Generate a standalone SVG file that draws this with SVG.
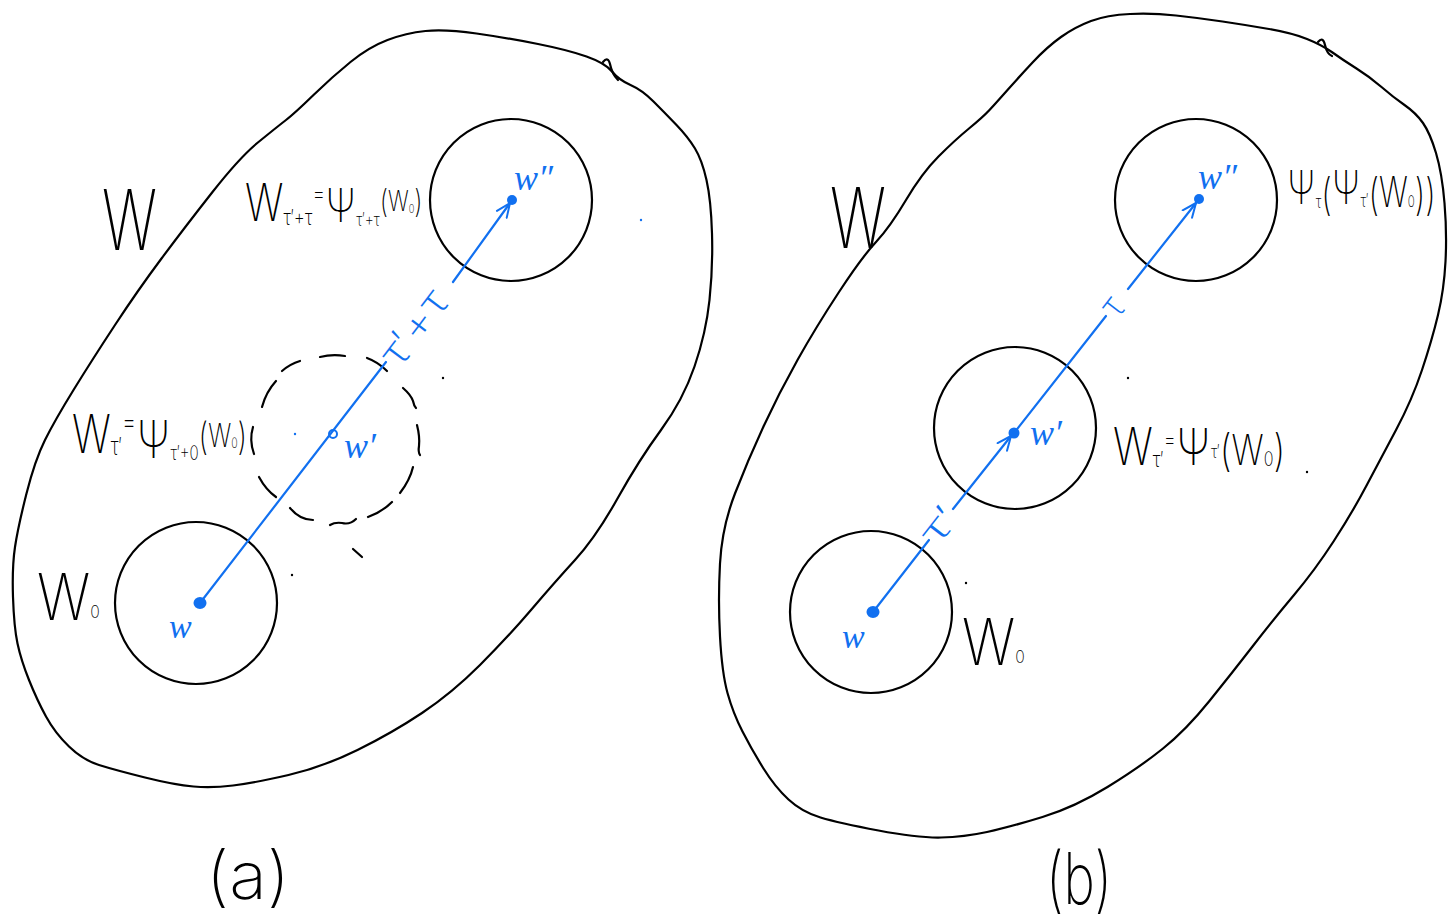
<svg xmlns="http://www.w3.org/2000/svg" width="1448" height="920" viewBox="0 0 1448 920">
<defs>
<style>
.ol{fill:none;stroke:#000;stroke-width:2.2;stroke-linecap:round;stroke-linejoin:round}
.ds{fill:none;stroke:#000;stroke-width:2.2;stroke-linecap:round}
.bl{fill:none;stroke:#1170f0;stroke-width:2.2;stroke-linecap:round}
.hw{font-family:Inter,"Liberation Sans",sans-serif;font-weight:200;fill:#000}
.bt{font-family:Inter,"Liberation Sans",sans-serif;font-weight:200;fill:#1170f0}
.bw{font-family:"Liberation Serif",serif;font-style:italic;fill:#1170f0}
.dot{fill:#000}
.bdot{fill:#1170f0}
</style>
<marker id="arr" viewBox="0 0 16 16" refX="15" refY="8" markerWidth="16" markerHeight="16" orient="auto" markerUnits="userSpaceOnUse">
<path d="M1,2 L15,8 L1,14" fill="none" stroke="#1170f0" stroke-width="2" stroke-linecap="round" stroke-linejoin="round"/>
</marker>
</defs>
<rect width="1448" height="920" fill="#fff"/>

<!-- Panel (a) -->
<g id="blob-a">
<path class="ol" d="M425.5,31 Q445,29 476.5,33.5 Q508,38 538,44 Q568,50 586.5,56.5 Q605,63 612,71.5 Q619,80 630.5,85 Q642,90 653.5,101.5 Q665,113 676.5,125 Q688,137 695,148.5 Q702,160 706.5,180 Q711,200 712,233.5 Q713,267 709.5,300 Q706,333 694.5,366.5 Q683,400 661,430 Q639,460 617.5,498.5 Q596,537 575,560 Q554,583 531,610 Q508,637 480,665 Q452,693 422,713 Q392,733 357.5,750 Q323,767 288.5,775 Q254,783 233,785.5 Q212,788 193.5,786.5 Q175,785 145,777.5 Q115,770 99,765 Q83,760 69,746.5 Q55,733 46,716.5 Q37,700 29,680 Q21,660 17.5,643.5 Q14,627 13,597 Q12,567 15,547 Q18,527 26.5,493.5 Q35,460 45,440 Q55,420 73.5,390 Q92,360 115,325 Q138,290 161.5,258.5 Q185,227 212.5,192 Q240,157 258.5,142 Q277,127 286,120 Q295,113 313.5,95 Q332,77 350.5,62 Q369,47 387.5,40 Q406,33 425.5,31 Z"/>
<path class="ol" d="M603,62 Q608,56 610,64 Q612,74 618,80"/>
</g>
<g id="node-a-W0"><circle class="ol" cx="196" cy="603" r="81"/></g>
<g id="node-a-W1">
<path class="ds" d="M262,407 Q266,392 276,381"/>
<path class="ds" d="M282,371 Q290,364 300,361"/>
<path class="ds" d="M320,357 Q332,354 345,356"/>
<path class="ds" d="M367,358 Q378,362 387,371"/>
<path class="ds" d="M403,388 Q411,395 413,401 Q414,406 416,408"/>
<path class="ds" d="M417,425 Q420,437 419,446 Q418,452 420,455"/>
<path class="ds" d="M413,467 Q410,480 400,493"/>
<path class="ds" d="M392,502 Q382,512 368,517"/>
<path class="ds" d="M356,519 Q350,525 342,523 Q335,522 330,525"/>
<path class="ds" d="M313,520 Q300,520 290,508"/>
<path class="ds" d="M276,497 Q266,490 259,477"/>
<path class="ds" d="M254,454 Q249,440 253,427"/>
<path class="ds" d="M353,549 L362,557"/>
</g>
<g id="node-a-W2"><circle class="ol" cx="511" cy="200" r="81"/></g>

<g id="labels-a">
<text class="hw" x="102" y="250" font-size="84" textLength="55" lengthAdjust="spacingAndGlyphs">W</text>
<text id="label-a-top" class="hw" x="245" y="221" transform="matrix(0.78,0,0,1,53.9,0)"><tspan y="221" font-size="52">W</tspan><tspan y="225" font-size="22">τ′+τ</tspan><tspan y="202" font-size="26">=</tspan><tspan y="222" font-size="46">Ψ</tspan><tspan y="226" font-size="18">τ′+τ</tspan><tspan y="213" font-size="32">(</tspan><tspan y="211" font-size="28">W</tspan><tspan y="213" font-size="12">0</tspan><tspan y="213" font-size="32">)</tspan></text>
<text id="label-a-mid" class="hw" x="72" y="453" transform="matrix(0.758,0,0,1,17.4,0)"><tspan y="453" font-size="54">W</tspan><tspan y="455" font-size="24">τ′</tspan><tspan y="432" font-size="30">=</tspan><tspan y="458" font-size="52">Ψ</tspan><tspan y="460" font-size="20">τ′+0</tspan><tspan y="450" font-size="38">(</tspan><tspan y="447" font-size="32">W</tspan><tspan y="448" font-size="14">0</tspan><tspan y="450" font-size="38">)</tspan></text>
<text id="label-a-W0" class="hw" x="37" y="620" transform="matrix(0.877,0,0,1,4.55,0)"><tspan y="620" font-size="64">W</tspan><tspan y="618" font-size="18">0</tspan></text>
<text class="hw" x="206" y="899" font-size="66" textLength="84" lengthAdjust="spacingAndGlyphs">(a)</text>
</g>

<g id="points-a">
<ellipse class="bdot" cx="200" cy="603" rx="6.5" ry="6"/>
<circle cx="333" cy="434" r="4" fill="none" stroke="#1170f0" stroke-width="2"/>
<circle class="bdot" cx="512" cy="200" r="5"/>
<text class="bw" x="169" y="638" font-size="34">w</text>
<text class="bw" x="344" y="458" font-size="36">w′</text>
<text class="bw" x="514" y="190" font-size="36">w″</text>
<circle class="bdot" cx="295" cy="434" r="1.2"/>
<circle class="bdot" cx="641" cy="220" r="1.2"/>
<circle class="dot" cx="443" cy="378" r="1.2"/>
<circle class="dot" cx="292" cy="575" r="1.2"/>
</g>

<!-- Panel (b) -->
<g id="blob-b">
<path class="ol" d="M1130,14 Q1153,13 1176,15.5 Q1199,18 1222.5,21.5 Q1246,25 1269,29 Q1292,33 1307,39 Q1322,45 1332.5,52.5 Q1343,60 1356.5,68.5 Q1370,77 1381.5,87 Q1393,97 1404.5,105 Q1416,113 1423,123 Q1430,133 1436,153 Q1442,173 1444.5,203 Q1447,233 1445.5,261.5 Q1444,290 1438,315 Q1432,340 1422,370 Q1412,400 1396,430 Q1380,460 1366,486.5 Q1352,513 1333.5,541.5 Q1315,570 1294,595 Q1273,620 1252.5,646.5 Q1232,673 1209,701.5 Q1186,730 1163,748.5 Q1140,767 1107.5,787 Q1075,807 1042.5,817 Q1010,827 987,832 Q964,837 941,837.5 Q918,838 878.5,830.5 Q839,823 820.5,817.5 Q802,812 788.5,799.5 Q775,787 763.5,768.5 Q752,750 742.5,731.5 Q733,713 727.5,693 Q722,673 720,636.5 Q718,600 720,563.5 Q722,527 735,493.5 Q748,460 763.5,426.5 Q779,393 797.5,360 Q816,327 839,292 Q862,257 876,242 Q890,227 906,200 Q922,173 938.5,156.5 Q955,140 969,128.5 Q983,117 989.5,110 Q996,103 1007.5,90 Q1019,77 1033,62 Q1047,47 1061,37 Q1075,27 1091,21 Q1107,15 1130,14 Z"/>
<path class="ol" d="M1318,42 Q1323,36 1325,45 Q1327,54 1332,56"/>
</g>
<g id="node-b-W0"><circle class="ol" cx="871" cy="612" r="81"/></g>
<g id="node-b-W1"><circle class="ol" cx="1015" cy="428" r="81"/></g>
<g id="node-b-W2"><circle class="ol" cx="1196" cy="200" r="81"/></g>

<g id="labels-b">
<text class="hw" x="830" y="248" font-size="84" textLength="56" lengthAdjust="spacingAndGlyphs">W</text>
<text id="label-b-top" class="hw" x="1287" y="204" transform="matrix(0.723,0,0,1,356.5,0)"><tspan y="204" font-size="46">Ψ</tspan><tspan y="208" font-size="18">τ</tspan><tspan y="210" font-size="44">(</tspan><tspan y="204" font-size="46">Ψ</tspan><tspan y="207" font-size="18">τ′</tspan><tspan y="210" font-size="44">(</tspan><tspan y="207" font-size="42">W</tspan><tspan y="207" font-size="16">0</tspan><tspan y="210" font-size="44">))</tspan></text>
<text id="label-b-mid" class="hw" x="1113" y="465" transform="matrix(0.808,0,0,1,213.7,0)"><tspan y="465" font-size="52">W</tspan><tspan y="467" font-size="22">τ′</tspan><tspan y="448" font-size="24">=</tspan><tspan y="465" font-size="50">Ψ</tspan><tspan y="458" font-size="18">τ′</tspan><tspan y="466" font-size="44">(</tspan><tspan y="465" font-size="42">W</tspan><tspan y="466" font-size="20">0</tspan><tspan y="466" font-size="44">)</tspan></text>
<text id="label-b-W0" class="hw" x="962" y="665" transform="matrix(0.877,0,0,1,118.3,0)"><tspan y="665" font-size="64">W</tspan><tspan y="663" font-size="18">0</tspan></text>
<text class="hw" x="1046" y="904" font-size="72" textLength="66" lengthAdjust="spacingAndGlyphs">(b)</text>
</g>

<g id="points-b">
<ellipse class="bdot" cx="873" cy="612" rx="6.5" ry="6"/>
<circle class="bdot" cx="1014" cy="433" r="5.5"/>
<circle class="bdot" cx="1199" cy="199" r="5"/>
<text class="bw" x="842" y="648" font-size="34">w</text>
<text class="bw" x="1030" y="445" font-size="36">w′</text>
<text class="bw" x="1198" y="189" font-size="36">w″</text>
<circle class="dot" cx="1128" cy="378" r="1.2"/>
<circle class="dot" cx="966" cy="583" r="1.2"/>
<circle class="dot" cx="1307" cy="472" r="1.2"/>
</g>

<g id="connectors">
<path class="bl" d="M200,603 L386,362"/>
<path class="bl" d="M453,282 L510,203" marker-end="url(#arr)"/>
<text class="bt" font-size="40" text-anchor="middle" textLength="85" lengthAdjust="spacingAndGlyphs" transform="translate(425,336) rotate(-53)">τ′+τ</text>
<path class="bl" d="M873,612 L929,540"/>
<path class="bl" d="M953,509 L1011,436" marker-end="url(#arr)"/>
<text class="bt" font-size="36" text-anchor="middle" textLength="38" lengthAdjust="spacingAndGlyphs" transform="translate(949,533) rotate(-52)">τ′</text>
<path class="bl" d="M1014,433 L1106,316"/>
<path class="bl" d="M1128,289 L1196,203" marker-end="url(#arr)"/>
<text class="bt" font-size="36" text-anchor="middle" transform="translate(1122,314) rotate(-52)">τ</text>
</g>
</svg>
